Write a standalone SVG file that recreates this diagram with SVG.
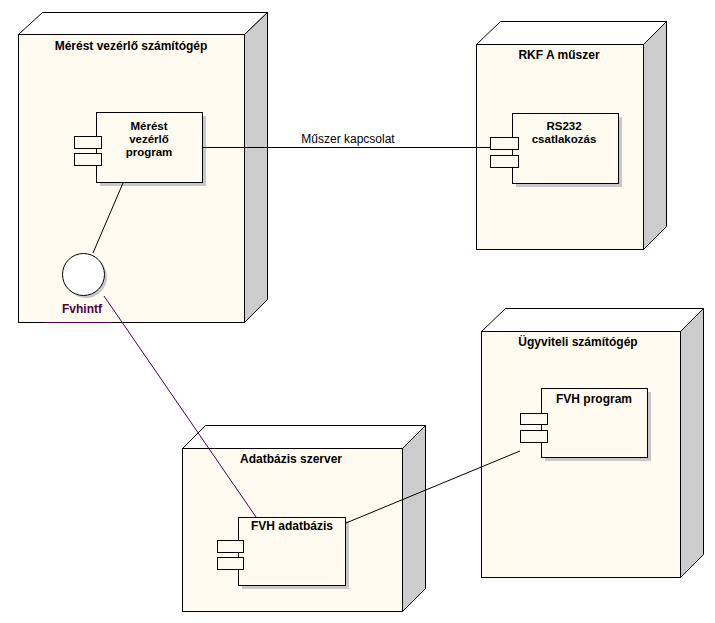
<svg xmlns="http://www.w3.org/2000/svg" width="715" height="623" viewBox="0 0 715 623">
<style>
.bg{fill:#ffffff}
.front{fill:#fffbf0;stroke:#000;stroke-width:1}
.top{fill:#ffffff;stroke:#000;stroke-width:1}
.side{fill:#cccccc;stroke:#000;stroke-width:1}
.comp{fill:#fffbf0;stroke:#000;stroke-width:1}
.shadow{fill:#c8c8c8}
.port{fill:#fffbf0;stroke:#000;stroke-width:1}
.title{font-family:"Liberation Sans",Arial,sans-serif;font-size:12px;font-weight:bold;fill:#000;text-anchor:middle}
.ml{font-size:11.5px}
.lbl{font-family:"Liberation Sans",Arial,sans-serif;font-size:12px;fill:#000;text-anchor:middle}
.conn{stroke:#000;stroke-width:1;fill:none}
.pconn{stroke:#4b0046;stroke-width:1;fill:none}
</style>
<rect class="bg" x="0" y="0" width="715" height="623"/>

<g id="node-merest-szamitogep">
<polygon class="top" points="18.5,34.5 42.5,12.5 267.5,12.5 244.5,34.5"/>
<polygon class="side" points="244.5,34.5 267.5,12.5 267.5,299.5 244.5,322.5"/>
<rect class="front" x="18.5" y="34.5" width="226" height="288"/>
<line x1="45" y1="322.5" x2="112" y2="322.5" stroke="#4b0046" stroke-width="1"/>
<rect x="56" y="323" width="52" height="5" fill="#fffbf0"/>
<text class="title" x="131" y="50">Mérést vezérlő számítógép</text>
</g>

<g id="comp-merest-program">
<rect class="shadow" x="100" y="116" width="106" height="70"/>
<rect class="comp" x="96.5" y="112.5" width="106" height="70"/>
<rect class="port" x="74.5" y="136.5" width="27" height="12"/>
<rect class="port" x="74.5" y="153.5" width="27" height="12"/>
<text class="title ml" x="149" y="130">Mérést</text>
<text class="title ml" x="149" y="143">vezérlő</text>
<text class="title ml" x="149" y="156">program</text>
</g>

<g id="iface-fvhintf">
<circle cx="86" cy="277" r="21" fill="#c8c8c8"/>
<circle cx="83.5" cy="274.5" r="21" fill="#ffffff" stroke="#000" stroke-width="1"/>
<text x="82" y="313" font-family="'Liberation Sans',Arial,sans-serif" font-size="12" font-weight="bold" fill="#4b0046" text-anchor="middle">Fvhintf</text>
</g>

<g id="node-rkfa">
<polygon class="top" points="476.5,44.5 500.5,21.5 666.5,21.5 643.5,44.5"/>
<polygon class="side" points="643.5,44.5 666.5,21.5 666.5,226.5 643.5,249.5"/>
<rect class="front" x="476.5" y="44.5" width="167" height="205"/>
<text class="title" x="559" y="59">RKF A műszer</text>
</g>

<g id="comp-rs232">
<rect class="shadow" x="516" y="117" width="106" height="70"/>
<rect class="comp" x="512.5" y="113.5" width="106" height="70"/>
<rect class="port" x="490.5" y="137.5" width="28" height="12"/>
<rect class="port" x="490.5" y="155.5" width="28" height="12"/>
<text class="title ml" x="564" y="130">RS232</text>
<text class="title ml" x="564" y="143">csatlakozás</text>
</g>

<g id="node-adatbazis-szerver">
<polygon class="top" points="182.5,448.5 205.5,425.5 425.5,425.5 402.5,448.5"/>
<polygon class="side" points="402.5,448.5 425.5,425.5 425.5,588.5 402.5,611.5"/>
<rect class="front" x="182.5" y="448.5" width="220" height="163"/>
<text class="title" x="291" y="463">Adatbázis szerver</text>
</g>

<g id="comp-fvh-adatbazis">
<rect class="shadow" x="242" y="521" width="107" height="68"/>
<rect class="comp" x="238.5" y="517.5" width="107" height="68"/>
<rect class="port" x="217.5" y="540.5" width="26" height="12"/>
<rect class="port" x="217.5" y="557.5" width="26" height="12"/>
<text class="title" x="292" y="530">FVH adatbázis</text>
</g>

<g id="node-ugyviteli">
<polygon class="top" points="481.5,331.5 505.5,308.5 703.5,308.5 680.5,331.5"/>
<polygon class="side" points="680.5,331.5 703.5,308.5 703.5,554.5 680.5,577.5"/>
<rect class="front" x="481.5" y="331.5" width="199" height="246"/>
<text class="title" x="578" y="346">Ügyviteli számítógép</text>
</g>

<g id="comp-fvh-program">
<rect class="shadow" x="545" y="392" width="106" height="69"/>
<rect class="comp" x="541.5" y="388.5" width="106" height="69"/>
<rect class="port" x="520.5" y="413.5" width="27" height="11"/>
<rect class="port" x="520.5" y="430.5" width="27" height="12"/>
<text class="title" x="594" y="403">FVH program</text>
</g>

<g id="connectors">
<line class="conn" x1="202" y1="147.5" x2="490" y2="147.5"/>
<text class="lbl" x="348" y="143">Műszer kapcsolat</text>
<line class="conn" x1="123" y1="183" x2="93" y2="253"/>
<line class="pconn" x1="104" y1="296" x2="256" y2="517"/>
<line class="conn" x1="346" y1="523" x2="520" y2="451"/>
</g>
</svg>
